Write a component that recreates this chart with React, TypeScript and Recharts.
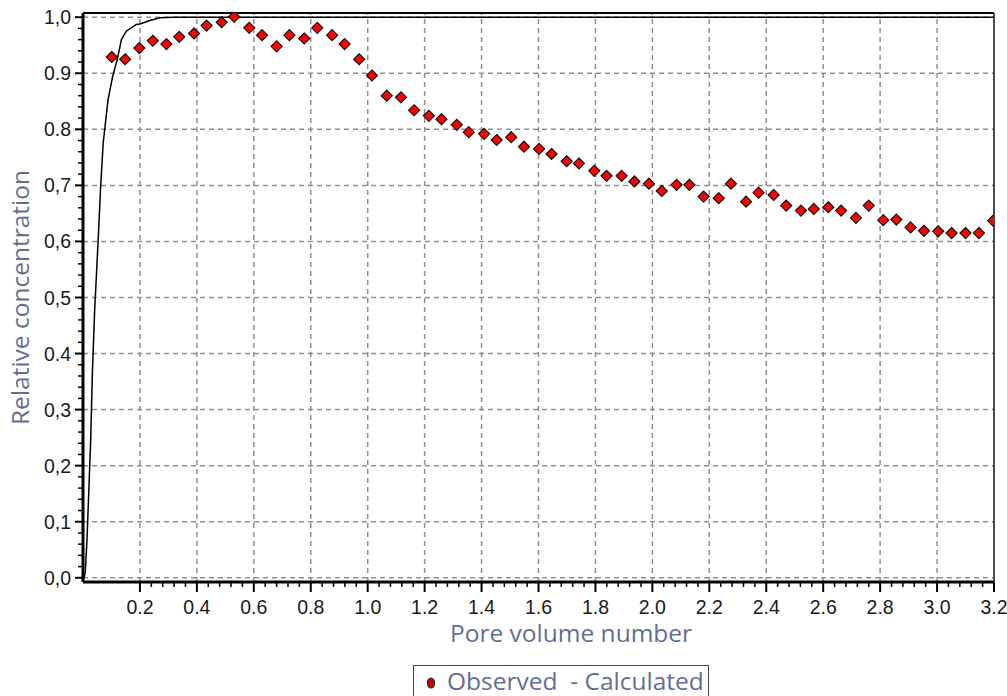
import React from 'react';
import { ComposedChart, Line, Scatter, XAxis, YAxis, ReferenceLine, Legend } from 'recharts';

const observedX = [
  0.101, 0.148, 0.198, 0.245, 0.293, 0.338, 0.39, 0.434, 0.487, 0.531,
  0.584, 0.629, 0.68, 0.725, 0.777, 0.823, 0.875, 0.919, 0.97, 1.015,
  1.067, 1.117, 1.163, 1.215, 1.259, 1.313, 1.355, 1.409, 1.453, 1.504,
  1.549, 1.602, 1.646, 1.699, 1.742, 1.796, 1.839, 1.892, 1.937, 1.988,
  2.033, 2.085, 2.13, 2.18, 2.233, 2.276, 2.329, 2.373, 2.426, 2.47,
  2.522, 2.567, 2.618, 2.663, 2.715, 2.76, 2.811, 2.857, 2.907, 2.954,
  3.004, 3.051, 3.1, 3.147, 3.197,
];
const observedY = [
  0.929, 0.925, 0.945, 0.958, 0.952, 0.965, 0.971, 0.985, 0.991, 1.001,
  0.981, 0.968, 0.948, 0.968, 0.962, 0.981, 0.968, 0.952, 0.925, 0.896,
  0.86, 0.857, 0.834, 0.824, 0.818, 0.808, 0.795, 0.792, 0.781, 0.786,
  0.769, 0.765, 0.756, 0.743, 0.739, 0.726, 0.717, 0.717, 0.707, 0.703,
  0.69, 0.701, 0.701, 0.68, 0.677, 0.703, 0.671, 0.687, 0.683, 0.664,
  0.655, 0.658, 0.661, 0.655, 0.642, 0.664, 0.638, 0.639, 0.625, 0.619,
  0.618, 0.615, 0.615, 0.615, 0.637,
];

const calculatedX = [
  0.004, 0.008, 0.014, 0.021, 0.027, 0.033, 0.041, 0.047, 0.055, 0.062,
  0.071, 0.088, 0.104, 0.12, 0.135, 0.152, 0.187, 0.2, 0.235, 0.27, 0.32, 3.2,
];
const calculatedY = [
  0.0, 0.01, 0.068, 0.163, 0.246, 0.366, 0.478, 0.538, 0.621, 0.698,
  0.776, 0.853, 0.894, 0.924, 0.96, 0.975, 0.987, 0.988, 0.994, 0.999, 1.0, 1.0,
];

const xMajorTicks = [0.2, 0.4, 0.6, 0.8, 1.0, 1.2, 1.4, 1.6, 1.8, 2.0, 2.2, 2.4, 2.6, 2.8, 3.0, 3.2];
const xTickLabels = ['0.2', '0.4', '0.6', '0.8', '1.0', '1.2', '1.4', '1.6', '1.8', '2.0', '2.2', '2.4', '2.6', '2.8', '3.0', '3.2'];
const yMajorTicks = [0, 0.1, 0.2, 0.3, 0.4, 0.5, 0.6, 0.7, 0.8, 0.9, 1.0];
const yTickLabels = ['0,0', '0,1', '0,2', '0,3', '0.4', '0,5', '0,6', '0,7', '0.8', '0.9', '1,0'];
const legendNames = ['Observed', 'Calculated'];

const X_DOMAIN: [number, number] = [0, 3.2];
const Y_DOMAIN: [number, number] = [-0.0075, 1.0075];

const r3 = (v: number) => Math.round(v * 1000) / 1000;
// minor tick positions (axis subdivisions)
const xAllTicks: number[] = [];
for (let k = 5; k <= 80; k++) xAllTicks.push(r3(k * 0.04));
const yAllTicks: number[] = [];
for (let k = 0; k <= 50; k++) yAllTicks.push(r3(k * 0.02));

const observedData = observedX.map((x, i) => ({ x, y: observedY[i] }));
const calculatedData = calculatedX.map((x, i) => ({ x, y: calculatedY[i] }));

const TICK_FONT = '"Liberation Sans", Arial, sans-serif';
const TITLE_FONT = '"Open Sans", "Noto Sans", sans-serif';
const TITLE_COLOR = '#5f6f94';
const TITLE_SIZE = 24.5;

const findIdx = (arr: number[], v: number) => arr.findIndex((t) => Math.abs(t - v) < 1e-6);

const XTick = (props: any) => {
  const { x, y, payload } = props;
  const idx = findIdx(xMajorTicks, payload.value);
  const major = idx >= 0;
  return (
    <g>
      <line x1={x} x2={x} y1={y} y2={y + (major ? 10 : 5)} stroke="#000" strokeWidth={major ? 2 : 1.5} />
      {major && (
        <text x={x} y={y + 32} textAnchor="middle" fontFamily={TICK_FONT} fontSize={19.5} fill="#1a1a1a">
          {xTickLabels[idx]}
        </text>
      )}
    </g>
  );
};

const YTick = (props: any) => {
  const { x, y, payload } = props;
  const idx = findIdx(yMajorTicks, payload.value);
  const major = idx >= 0;
  return (
    <g>
      <line x1={x - (major ? 8 : 5)} x2={x} y1={y} y2={y} stroke="#000" strokeWidth={major ? 2 : 1.5} />
      {major && (
        <text x={x - 12} y={y + 7} textAnchor="end" fontFamily={TICK_FONT} fontSize={19.5} fill="#1a1a1a">
          {yTickLabels[idx]}
        </text>
      )}
    </g>
  );
};

const Diamond = (props: any) => {
  const { cx, cy } = props;
  if (cx == null || cy == null) return null;
  const s = 5.5;
  return (
    <polygon
      points={`${cx},${cy - s} ${cx + s},${cy} ${cx},${cy + s} ${cx - s},${cy}`}
      fill="#ff0000"
      stroke="#111"
      strokeWidth={1.2}
    />
  );
};

const LegendContent = () => (
  <div
    style={{
      border: '1px solid #444',
      width: 296,
      height: 40,
      boxSizing: 'border-box',
      display: 'flex',
      alignItems: 'flex-start',
      paddingLeft: 12,
      paddingTop: 0,
      fontFamily: TITLE_FONT,
      fontSize: TITLE_SIZE,
      color: TITLE_COLOR,
      whiteSpace: 'pre',
      background: '#fff',
    }}
  >
    <svg width={10} height={14} style={{ flexShrink: 0, marginTop: 10, marginRight: 11 }}>
      <ellipse cx={5} cy={7} rx={3.5} ry={5} fill="#d00000" stroke="#222" strokeWidth={1.2} />
    </svg>
    <span style={{ lineHeight: '30px', flexShrink: 0 }}>{`${legendNames[0]}  - ${legendNames[1]}`}</span>
  </div>
);

const XTitle = (props: any) => {
  const vb = props.viewBox || {};
  return (
    <text
      x={450}
      y={vb.y + 60}
      textAnchor="start"
      fontFamily={TITLE_FONT}
      fontSize={TITLE_SIZE}
      fill={TITLE_COLOR}
    >
      Pore volume number
    </text>
  );
};

const YTitle = (props: any) => {
  const vb = props.viewBox || {};
  const cx = 29;
  const cy = vb.y + vb.height / 2;
  return (
    <text
      x={cx}
      y={cy}
      transform={`rotate(-90 ${cx} ${cy})`}
      textAnchor="middle"
      fontFamily={TITLE_FONT}
      fontSize={TITLE_SIZE}
      fill={TITLE_COLOR}
    >
      Relative concentration
    </text>
  );
};

export default function App() {
  return (
    <div style={{ position: 'absolute', left: 0, top: 0, width: 1007, height: 696, overflow: 'hidden', background: '#fff' }}>
      <ComposedChart width={1007} height={696} margin={{ top: 13, right: 13, left: 0, bottom: 0 }}>
        <XAxis
          type="number"
          dataKey="x"
          domain={X_DOMAIN}
          ticks={xAllTicks}
          interval={0}
          tickSize={0}
          tickMargin={0}
          tickLine={false}
          tick={<XTick />}
          height={114}
          axisLine={{ stroke: '#000', strokeWidth: 3 }}
          allowDataOverflow
          label={<XTitle />}
        />
        <YAxis
          type="number"
          dataKey="y"
          domain={Y_DOMAIN}
          ticks={yAllTicks}
          interval={0}
          tickSize={0}
          tickMargin={0}
          tickLine={false}
          tick={<YTick />}
          width={83}
          axisLine={{ stroke: '#000', strokeWidth: 3 }}
          allowDataOverflow
          label={<YTitle />}
        />
        {xMajorTicks.slice(0, -1).map((v) => (
          <ReferenceLine key={`gx${v}`} x={v} stroke="#909090" strokeWidth={1.5} strokeDasharray="5 4" zIndex={-100} />
        ))}
        {yMajorTicks.map((v) => (
          <ReferenceLine key={`gy${v}`} y={v} stroke="#909090" strokeWidth={1.5} strokeDasharray="5 4" zIndex={-100} />
        ))}
        <ReferenceLine y={Y_DOMAIN[1]} stroke="#000" strokeWidth={2} />
        <ReferenceLine x={X_DOMAIN[1]} stroke="#111" strokeWidth={1.5} />
        <Line
          data={calculatedData}
          dataKey="y"
          name={legendNames[1]}
          type="linear"
          stroke="#000"
          strokeWidth={1.5}
          dot={false}
          activeDot={false}
          isAnimationActive={false}
        />
        <Scatter
          data={observedData}
          dataKey="y"
          name={legendNames[0]}
          shape={<Diamond />}
          isAnimationActive={false}
        />
        <Legend
          layout="horizontal"
          verticalAlign="middle"
          align="center"
          content={<LegendContent />}
          wrapperStyle={{ left: 413, top: 665, width: 296, height: 40 }}
        />
      </ComposedChart>
    </div>
  );
}
